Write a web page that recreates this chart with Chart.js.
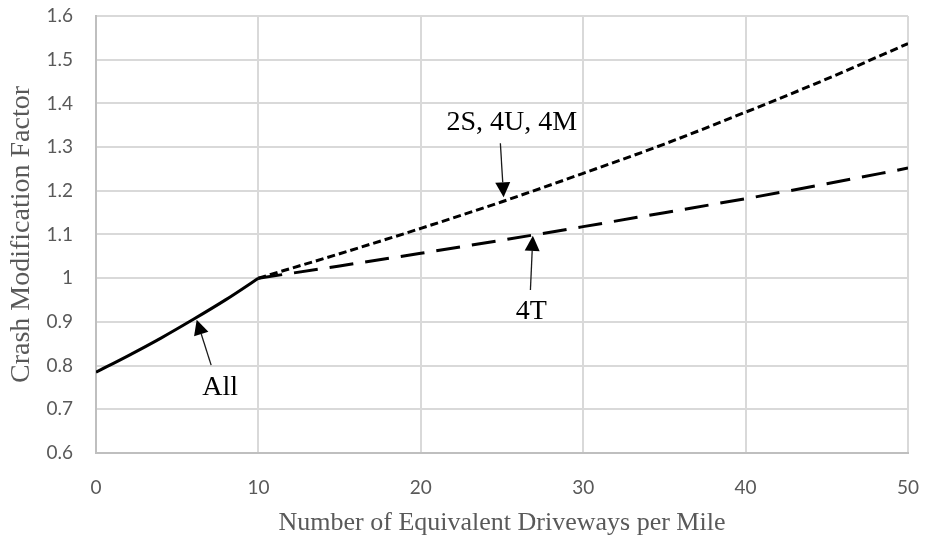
<!DOCTYPE html>
<html>
<head>
<meta charset="utf-8">
<script src="https://cdn.jsdelivr.net/npm/chart.js@4.4.1/dist/chart.umd.min.js"></script>
<style>
  html, body { margin: 0; padding: 0; background: #ffffff; }
  #wrap { width: 925px; height: 540px; }
</style>
</head>
<body>
<div id="wrap"><canvas id="cmfChart"></canvas></div>
<script>
// values
const allDriveways = [0, 2, 4, 6, 8, 10];
const allCmf = [0.785, 0.823, 0.863, 0.906, 0.951, 1.0];

const upperDriveways = [10, 15, 20, 25, 30, 35, 40, 45, 50];
const twoLaneCmf = [1.0, 1.056, 1.114, 1.175, 1.240, 1.307, 1.380, 1.456, 1.537];
const fourTCmf = [1.0, 1.028, 1.057, 1.087, 1.118, 1.150, 1.182, 1.216, 1.252];

const xTicks = [0, 10, 20, 30, 40, 50];
const yTicks = [0.6, 0.7, 0.8, 0.9, 1.0, 1.1, 1.2, 1.3, 1.4, 1.5, 1.6];

// callout labels, in data units
const callouts = [
  { text: "2S, 4U, 4M", labelX: 25.6, labelY: 1.357, fromX: 24.9, fromY: 1.309, toX: 25.1, toY: 1.185 },
  { text: "4T", labelX: 26.8, labelY: 0.923, fromX: 26.75, fromY: 0.973, toX: 26.9, toY: 1.097 },
  { text: "All", labelX: 7.64, labelY: 0.749, fromX: 7.09, fromY: 0.801, toX: 6.2, toY: 0.905 }
];

const tickColor = "#595959";
const gridColor = "#d9d9d9";

function toPoints(xs, ys) {
  return xs.map((x, i) => ({ x, y: ys[i] }));
}

const calloutPlugin = {
  id: "callouts",
  afterDatasetsDraw(chart) {
    const { ctx, scales: { x, y } } = chart;
    ctx.save();
    callouts.forEach(c => {
      const x1 = x.getPixelForValue(c.fromX);
      const y1 = y.getPixelForValue(c.fromY);
      const x2 = x.getPixelForValue(c.toX);
      const y2 = y.getPixelForValue(c.toY);
      const ang = Math.atan2(y2 - y1, x2 - x1);
      const headLen = 15;
      const headHalf = 7.5;

      ctx.strokeStyle = "#1a1a1a";
      ctx.lineWidth = 1.3;
      ctx.beginPath();
      ctx.moveTo(x1, y1);
      ctx.lineTo(x2 - Math.cos(ang) * headLen, y2 - Math.sin(ang) * headLen);
      ctx.stroke();

      const bx = x2 - Math.cos(ang) * headLen;
      const by = y2 - Math.sin(ang) * headLen;
      ctx.fillStyle = "#000000";
      ctx.beginPath();
      ctx.moveTo(x2, y2);
      ctx.lineTo(bx + Math.sin(ang) * headHalf, by - Math.cos(ang) * headHalf);
      ctx.lineTo(bx - Math.sin(ang) * headHalf, by + Math.cos(ang) * headHalf);
      ctx.closePath();
      ctx.fill();

      ctx.font = "28px 'Liberation Serif', 'Times New Roman', serif";
      ctx.textAlign = "center";
      ctx.textBaseline = "middle";
      ctx.fillText(c.text, x.getPixelForValue(c.labelX), y.getPixelForValue(c.labelY));
    });
    ctx.restore();
  }
};

new Chart(document.getElementById("cmfChart"), {
  type: "line",
  data: {
    datasets: [
      {
        label: "All",
        data: toPoints(allDriveways, allCmf),
        borderColor: "#000000",
        borderWidth: 3,
        pointRadius: 0,
        cubicInterpolationMode: "monotone"
      },
      {
        label: "2S, 4U, 4M",
        data: toPoints(upperDriveways, twoLaneCmf),
        borderColor: "#000000",
        borderWidth: 3,
        borderDash: [8, 4],
        pointRadius: 0,
        cubicInterpolationMode: "monotone"
      },
      {
        label: "4T",
        data: toPoints(upperDriveways, fourTCmf),
        borderColor: "#000000",
        borderWidth: 3,
        borderDash: [24, 12],
        pointRadius: 0,
        cubicInterpolationMode: "monotone"
      }
    ]
  },
  options: {
    responsive: true,
    maintainAspectRatio: false,
    animation: false,
    devicePixelRatio: 1,
    plugins: {
      legend: { display: false },
      tooltip: { enabled: false }
    },
    scales: {
      x: {
        type: "linear",
        min: 0,
        max: 50,
        afterBuildTicks: s => { s.ticks = xTicks.map(v => ({ value: v })); },
        afterFit: s => {
          s.height = 87;
          s.paddingLeft = 0;
          s.paddingRight = 17;
        },
        ticks: {
          color: tickColor,
          padding: 23,
          font: { family: "Lato", size: 19 }
        },
        grid: { color: gridColor, lineWidth: 2, drawTicks: false },
        border: { color: "#bfbfbf", width: 2 },
        title: {
          display: true,
          text: "Number of Equivalent Driveways per Mile",
          color: tickColor,
          padding: { top: 0, bottom: 1 },
          font: { family: "Liberation Serif", size: 26 }
        }
      },
      y: {
        min: 0.6,
        max: 1.6,
        afterBuildTicks: s => { s.ticks = yTicks.map(v => ({ value: v })); },
        afterFit: s => {
          s.width = 96;
          s.paddingTop = 16;
          s.paddingBottom = 0;
        },
        ticks: {
          color: tickColor,
          padding: 23,
          font: { family: "Lato", size: 19 },
          callback: v => String(Number(v.toFixed(1)))
        },
        grid: { color: gridColor, lineWidth: 2, drawTicks: false },
        border: { color: "#bfbfbf", width: 2 },
        title: {
          display: true,
          text: "Crash Modification Factor",
          color: tickColor,
          padding: { top: 5, bottom: 0 },
          font: { family: "Liberation Serif", size: 28 }
        }
      }
    }
  },
  plugins: [calloutPlugin]
});
</script>
</body>
</html>
